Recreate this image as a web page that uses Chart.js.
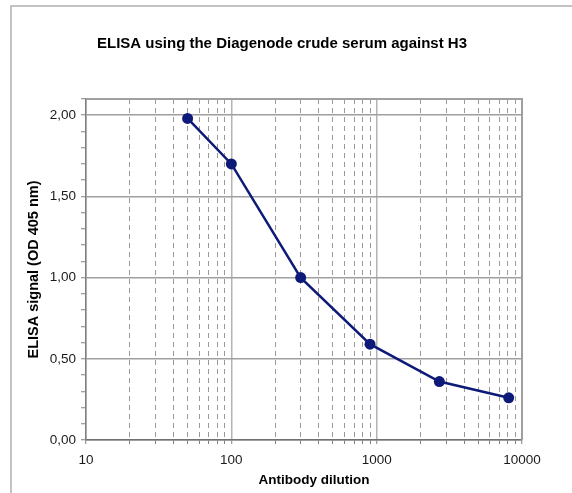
<!DOCTYPE html>
<html>
<head>
<meta charset="utf-8">
<script src="https://cdn.jsdelivr.net/npm/chart.js@4.4.1/dist/chart.umd.min.js"></script>
<style>
  html, body { margin: 0; padding: 0; background: #fff; }
</style>
</head>
<body>
<canvas id="elisaChart" width="572" height="493"></canvas>
<script>
// antibody dilution (x) and ELISA signal OD 405 nm (y)
const dilutions = [50, 100, 300, 900, 2700, 8100];
const signals = [1.98, 1.70, 1.00, 0.59, 0.36, 0.26];

const xTickValues = [
  10, 20, 30, 40, 50, 60, 70, 80, 90,
  100, 200, 300, 400, 500, 600, 700, 800, 900,
  1000, 2000, 3000, 4000, 5000, 6000, 7000, 8000, 9000,
  10000,
];
const xLabelValues = [10, 100, 1000, 10000];

const yTickValues = [
  0, 0.1, 0.2, 0.3, 0.4, 0.5, 0.6, 0.7, 0.8, 0.9, 1.0,
  1.1, 1.2, 1.3, 1.4, 1.5, 1.6, 1.7, 1.8, 1.9, 2.0, 2.1,
];
const yLabelValues = [0, 0.5, 1.0, 1.5, 2.0];

const X_TITLE = 'Antibody dilution';

const FONT = 'Liberation Sans, Arial, Helvetica, sans-serif';
const COLORS = {
  line: '#0e1a78',
  text: '#1a1a1a',
  grid: '#a0a0a0',
  minor: '#9a9a9a',
  major: '#b4b4b4',
  axis: '#808080',
  frame: '#b0b0b0',
};

const near = (list, v) => list.some((l) => Math.abs(l - v) < 1e-6);
const isMajorX = (ctx) => ctx.tick && near(xLabelValues, ctx.tick.value);
const isMajorY = (ctx) => ctx.tick && near(yLabelValues, ctx.tick.value);

// outer frame, top/right edge of the plot box, and the x title
// (the original sits a bit right of the plot centre)
const framePlugin = {
  id: 'frame',
  beforeDraw(chart) {
    const { ctx, width, height } = chart;
    ctx.save();
    ctx.fillStyle = '#fff';
    ctx.fillRect(0, 0, width, height);
    ctx.strokeStyle = COLORS.frame;
    ctx.lineWidth = 1.5;
    ctx.beginPath();
    ctx.moveTo(11, height);
    ctx.lineTo(11, 6);
    ctx.lineTo(width, 6);
    ctx.stroke();
    ctx.restore();
  },
  beforeDatasetsDraw(chart) {
    const { ctx, chartArea: a } = chart;
    ctx.save();
    ctx.strokeStyle = COLORS.grid;
    ctx.lineWidth = 2;
    ctx.beginPath();
    ctx.moveTo(a.left, a.top);
    ctx.lineTo(a.right, a.top);
    ctx.lineTo(a.right, a.bottom);
    ctx.stroke();
    ctx.restore();
  },
  afterDraw(chart) {
    const { ctx, chartArea: a } = chart;
    ctx.save();
    ctx.fillStyle = '#000';
    ctx.font = `bold 13.5px ${FONT}`;
    ctx.textAlign = 'center';
    ctx.textBaseline = 'middle';
    ctx.fillText(X_TITLE, (a.left + a.right) / 2 + 10, a.bottom + 40);
    ctx.restore();
  },
};

new Chart(document.getElementById('elisaChart'), {
  type: 'line',
  data: {
    datasets: [{
      data: dilutions.map((d, i) => ({ x: d, y: signals[i] })),
      borderColor: COLORS.line,
      backgroundColor: COLORS.line,
      borderWidth: 2.5,
      pointRadius: 5.5,
      pointBorderWidth: 0,
      tension: 0,
      fill: false,
    }],
  },
  options: {
    responsive: false,
    animation: false,
    layout: { padding: { left: 0, right: 8, top: 0, bottom: 0 } },
    plugins: {
      legend: { display: false },
      tooltip: { enabled: false },
      title: {
        display: true,
        text: 'ELISA using the Diagenode crude serum against H3',
        color: '#000',
        font: { family: FONT, size: 15, weight: 'bold' },
        padding: { top: 35, bottom: 46 },
      },
    },
    scales: {
      x: {
        type: 'logarithmic',
        min: 10,
        max: 10000,
        afterBuildTicks: (scale) => { scale.ticks = xTickValues.map((v) => ({ value: v })); },
        afterFit: (scale) => { scale.height = 53; scale.paddingRight = 50; },
        ticks: {
          autoSkip: false,
          maxRotation: 0,
          padding: 8,
          color: COLORS.text,
          font: { family: FONT, size: 13.5 },
          callback: (value) => (near(xLabelValues, value) ? String(value) : ''),
        },
        grid: {
          color: (ctx) => (isMajorX(ctx) ? COLORS.major : COLORS.minor),
          lineWidth: (ctx) => (isMajorX(ctx) ? 1.5 : 1),
          tickLength: 4,
          tickColor: COLORS.axis,
          tickWidth: 1,
        },
        border: {
          color: '#707070',
          width: 1.5,
          dash: (ctx) => (ctx.tick && !isMajorX(ctx) ? [5, 4] : []),
        },
        title: { display: false },
      },
      y: {
        min: 0,
        max: 2.1,
        afterBuildTicks: (scale) => { scale.ticks = yTickValues.map((v) => ({ value: v })); },
        afterFit: (scale) => { scale.width = 86; },
        ticks: {
          autoSkip: false,
          padding: 5,
          color: COLORS.text,
          font: { family: FONT, size: 13.5 },
          callback: (value) => (near(yLabelValues, value) ? value.toFixed(2).replace('.', ',') : ''),
        },
        grid: {
          color: (ctx) => (isMajorY(ctx) ? COLORS.grid : 'rgba(0,0,0,0)'),
          lineWidth: 1.5,
          tickLength: 5,
          tickColor: COLORS.axis,
          tickWidth: 1,
        },
        border: { color: COLORS.axis, width: 1.5 },
        title: {
          display: true,
          text: 'ELISA signal (OD 405 nm)',
          color: '#000',
          font: { family: FONT, size: 14.5, weight: 'bold' },
          padding: { top: 25, bottom: 0 },
        },
      },
    },
  },
  plugins: [framePlugin],
});
</script>
</body>
</html>
